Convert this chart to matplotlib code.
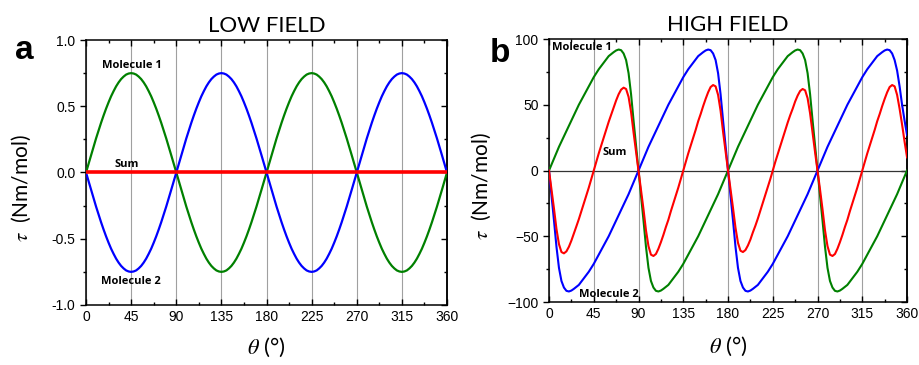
import matplotlib
matplotlib.use('Agg')
import matplotlib.pyplot as plt
import numpy as np
from matplotlib.ticker import MultipleLocator, FormatStrFormatter

# 1. Datos (angulo cada 2.5 grados, de 0 a 360)
theta = np.arange(0, 360.1, 2.5)

# Campo bajo: dos senoidales opuestas y la suma en cero
mol1_bajo = [
    0.000, 0.065, 0.130, 0.194, 0.257, 0.317, 0.375, 0.430, 0.482, 0.530, 0.575, 0.614, 0.650,
    0.680, 0.705, 0.724, 0.739, 0.747, 0.750, 0.747, 0.739, 0.724, 0.705, 0.680, 0.650, 0.614,
    0.575, 0.530, 0.482, 0.430, 0.375, 0.317, 0.257, 0.194, 0.130, 0.065, 0.000,
    -0.065, -0.130, -0.194, -0.257, -0.317, -0.375, -0.430, -0.482, -0.530, -0.575, -0.614, -0.650,
    -0.680, -0.705, -0.724, -0.739, -0.747, -0.750, -0.747, -0.739, -0.724, -0.705, -0.680, -0.650,
    -0.614, -0.575, -0.530, -0.482, -0.430, -0.375, -0.317, -0.257, -0.194, -0.130, -0.065, 0.000,
    0.065, 0.130, 0.194, 0.257, 0.317, 0.375, 0.430, 0.482, 0.530, 0.575, 0.614, 0.650,
    0.680, 0.705, 0.724, 0.739, 0.747, 0.750, 0.747, 0.739, 0.724, 0.705, 0.680, 0.650, 0.614,
    0.575, 0.530, 0.482, 0.430, 0.375, 0.317, 0.257, 0.194, 0.130, 0.065, 0.000,
    -0.065, -0.130, -0.194, -0.257, -0.317, -0.375, -0.430, -0.482, -0.530, -0.575, -0.614, -0.650,
    -0.680, -0.705, -0.724, -0.739, -0.747, -0.750, -0.747, -0.739, -0.724, -0.705, -0.680, -0.650,
    -0.614, -0.575, -0.530, -0.482, -0.430, -0.375, -0.317, -0.257, -0.194, -0.130, -0.065, 0.000]
mol2_bajo = [
    0.000, -0.065, -0.130, -0.194, -0.257, -0.317, -0.375, -0.430, -0.482, -0.530, -0.575, -0.614, -0.650,
    -0.680, -0.705, -0.724, -0.739, -0.747, -0.750, -0.747, -0.739, -0.724, -0.705, -0.680, -0.650, -0.614,
    -0.575, -0.530, -0.482, -0.430, -0.375, -0.317, -0.257, -0.194, -0.130, -0.065, 0.000,
    0.065, 0.130, 0.194, 0.257, 0.317, 0.375, 0.430, 0.482, 0.530, 0.575, 0.614, 0.650,
    0.680, 0.705, 0.724, 0.739, 0.747, 0.750, 0.747, 0.739, 0.724, 0.705, 0.680, 0.650,
    0.614, 0.575, 0.530, 0.482, 0.430, 0.375, 0.317, 0.257, 0.194, 0.130, 0.065, 0.000,
    -0.065, -0.130, -0.194, -0.257, -0.317, -0.375, -0.430, -0.482, -0.530, -0.575, -0.614, -0.650,
    -0.680, -0.705, -0.724, -0.739, -0.747, -0.750, -0.747, -0.739, -0.724, -0.705, -0.680, -0.650, -0.614,
    -0.575, -0.530, -0.482, -0.430, -0.375, -0.317, -0.257, -0.194, -0.130, -0.065, 0.000,
    0.065, 0.130, 0.194, 0.257, 0.317, 0.375, 0.430, 0.482, 0.530, 0.575, 0.614, 0.650,
    0.680, 0.705, 0.724, 0.739, 0.747, 0.750, 0.747, 0.739, 0.724, 0.705, 0.680, 0.650,
    0.614, 0.575, 0.530, 0.482, 0.430, 0.375, 0.317, 0.257, 0.194, 0.130, 0.065, 0.000]
theta_suma_bajo = [0, 360]
suma_bajo = [0.0, 0.0]

# Campo alto: curvas tipo diente de sierra
mol1_alto = [
    0, 4.5, 9, 13.5, 18, 22, 26, 30, 34, 38, 42, 46, 50, 53.5, 57, 60.5, 64, 67.5, 71, 74, 77,
    79.5, 82, 84.5, 87, 88.5, 90, 91.3, 92, 91.5, 89, 84, 74, 58, 38, 19, 0,
    -19, -38, -58, -74, -84, -89, -91.5, -92, -91.3, -90, -88.5, -87, -84.5, -82, -79.5, -77,
    -74, -71, -67.5, -64, -60.5, -57, -53.5, -50, -46, -42, -38, -34, -30, -26, -22, -18, -13.5, -9, -4.5, 0,
    4.5, 9, 13.5, 18, 22, 26, 30, 34, 38, 42, 46, 50, 53.5, 57, 60.5, 64, 67.5, 71, 74, 77,
    79.5, 82, 84.5, 87, 88.5, 90, 91.3, 92, 91.5, 89, 84, 74, 58, 38, 19, 0,
    -19, -38, -58, -74, -84, -89, -91.5, -92, -91.3, -90, -88.5, -87, -84.5, -82, -79.5, -77,
    -74, -71, -67.5, -64, -60.5, -57, -53.5, -50, -46, -42, -38, -34, -30, -26, -22, -18, -13.5, -9, -4.5, 0]
mol2_alto = [
    0, -19, -38, -58, -74, -84, -89, -91.5, -92, -91.3, -90, -88.5, -87, -84.5, -82, -79.5, -77,
    -74, -71, -67.5, -64, -60.5, -57, -53.5, -50, -46, -42, -38, -34, -30, -26, -22, -18, -13.5, -9, -4.5, 0,
    4.5, 9, 13.5, 18, 22, 26, 30, 34, 38, 42, 46, 50, 53.5, 57, 60.5, 64, 67.5, 71, 74, 77,
    79.5, 82, 84.5, 87, 88.5, 90, 91.3, 92, 91.5, 89, 84, 74, 58, 38, 19, 0,
    -19, -38, -58, -74, -84, -89, -91.5, -92, -91.3, -90, -88.5, -87, -84.5, -82, -79.5, -77,
    -74, -71, -67.5, -64, -60.5, -57, -53.5, -50, -46, -42, -38, -34, -30, -26, -22, -18, -13.5, -9, -4.5, 0,
    4.5, 9, 13.5, 18, 22, 26, 30, 34, 38, 42, 46, 50, 53.5, 57, 60.5, 64, 67.5, 71, 74, 77,
    79.5, 82, 84.5, 87, 88.5, 90, 91.3, 92, 91.5, 89, 84, 76, 64, 50, 38, 27]
suma_alto = [
    0, -14.5, -29, -44.5, -56, -62, -63, -61.5, -58, -53.3, -48, -42.5, -37, -31, -25, -19, -13, -6.5,
    0, 6.5, 13, 19, 25, 31, 37, 42.5, 48, 53.3, 58, 61.5, 63, 62, 56, 44.5, 29, 14.5, 0,
    -14.5, -29.5, -45.5, -57.5, -64, -65, -63.5, -59.5, -54.5, -49, -43, -37.5, -31, -25, -19, -13, -6.5,
    0, 6.5, 13, 19, 25, 31, 37.5, 43, 49, 54.5, 59.5, 63.5, 65, 64, 57.5, 45.5, 29.5, 14.5, 0,
    -14, -28.5, -43.5, -55, -61, -62, -60.5, -57, -52.5, -47, -42, -36.5, -30.5, -24.5, -18.5, -12.5, -6.5,
    0, 6.5, 12.5, 18.5, 24.5, 30.5, 36.5, 42, 47, 52.5, 57, 60.5, 62, 61, 55, 43.5, 28.5, 14, 0,
    -14.5, -29.5, -45.5, -57.5, -64, -65, -63.5, -59.5, -54.5, -49, -43, -37.5, -31, -25, -19, -13, -6.5,
    0, 6.5, 13, 19, 25, 31, 37.5, 43, 49, 54.5, 59.5, 63.5, 65, 64, 57.5, 47, 35, 22, 10]

xticks = [0, 45, 90, 135, 180, 225, 270, 315, 360]

verde = '#008000'
azul = '#0000ff'
rojo = '#ff0000'

plt.rcParams['font.family'] = ['Liberation Sans', 'DejaVu Sans']
plt.rcParams['mathtext.fontset'] = 'stix'

fig = plt.figure(figsize=(9.19, 3.65), dpi=100)
ax1 = fig.add_axes([0.0936, 0.1644, 0.3928, 0.726])
ax2 = fig.add_axes([0.5974, 0.1726, 0.3896, 0.7205])


def armar_ejes(ax, titulo, ymin, ymax, paso, paso_menor, ylab_x, xlab_y):
    ax.set_xlim(0, 360)
    ax.set_ylim(ymin, ymax)
    ax.set_xticks(xticks)
    ax.xaxis.set_minor_locator(MultipleLocator(22.5))
    ax.yaxis.set_major_locator(MultipleLocator(paso))
    ax.yaxis.set_minor_locator(MultipleLocator(paso_menor))
    ax.tick_params(axis='x', which='both', direction='in', top=True, labelsize=10)
    ax.tick_params(axis='y', which='both', direction='out', right=False, labelsize=10)
    ax.tick_params(which='major', length=4, width=1)
    ax.tick_params(which='minor', length=2.5, width=1)
    # ticks del lado derecho hacia adentro
    der = ax.secondary_yaxis('right')
    der.yaxis.set_major_locator(MultipleLocator(paso))
    der.yaxis.set_minor_locator(MultipleLocator(paso_menor))
    der.tick_params(which='both', direction='in', labelright=False)
    der.tick_params(which='major', length=4, width=1)
    der.tick_params(which='minor', length=2.5, width=1)
    for s in list(ax.spines.values()) + [der.spines['right']]:
        s.set_linewidth(1.1)
    ax.grid(True, axis='x', color='#a0a0a0', linewidth=0.8)
    ax.set_axisbelow(True)
    ax.set_title(titulo, fontsize=16, family='Lato', pad=6)
    ax.set_ylabel(r'$\tau$  (Nm/mol)', fontsize=15, family='Lato')
    ax.yaxis.set_label_coords(ylab_x, 0.44)
    ax.set_xlabel(r'$\theta$ (°)', fontsize=16, family='Lato')
    ax.xaxis.set_label_coords(0.5, xlab_y)


# 2. Panel a: campo bajo
armar_ejes(ax1, 'LOW FIELD', -1.0, 1.0, 0.5, 0.25, -0.147, -0.115)
ax1.yaxis.set_major_formatter(FormatStrFormatter('%.1f'))
ax1.plot(theta, mol1_bajo, color=verde, lw=1.6, zorder=3)
ax1.plot(theta, mol2_bajo, color=azul, lw=1.6, zorder=3)
ax1.plot(theta_suma_bajo, suma_bajo, color=rojo, lw=2.6, zorder=4)
ax1.text(46, 0.81, 'Molecule 1', ha='center', va='center', fontsize=8, weight='bold', family='Open Sans')
ax1.text(41, 0.06, 'Sum', ha='center', va='center', fontsize=8, weight='bold', family='Open Sans')
ax1.text(45, -0.82, 'Molecule 2', ha='center', va='center', fontsize=8, weight='bold', family='Open Sans')

# 3. Panel b: campo alto
armar_ejes(ax2, 'HIGH FIELD', -100, 100, 50, 25, -0.156, -0.125)
ax2.axhline(0, color='#333333', lw=0.9, zorder=1)
ax2.plot(theta, mol1_alto, color=verde, lw=1.5, zorder=3)
ax2.plot(theta, mol2_alto, color=azul, lw=1.5, zorder=3)
ax2.plot(theta, suma_alto, color=rojo, lw=1.5, zorder=4)
ax2.text(33, 93.5, 'Molecule 1', ha='center', va='center', fontsize=8, weight='bold', family='Open Sans')
ax2.text(66, 13.5, 'Sum', ha='center', va='center', fontsize=8, weight='bold', family='Open Sans')
ax2.text(60, -94.5, 'Molecule 2', ha='center', va='center', fontsize=8, weight='bold', family='Open Sans')

# 4. Letras de los paneles
fig.text(0.016, 1 - 59 / 365, 'a', fontsize=24, weight='bold', va='baseline')
fig.text(0.533, 1 - 62 / 365, 'b', fontsize=24, weight='bold', va='baseline')

plt.savefig('out.png', dpi=100)
plt.close()
